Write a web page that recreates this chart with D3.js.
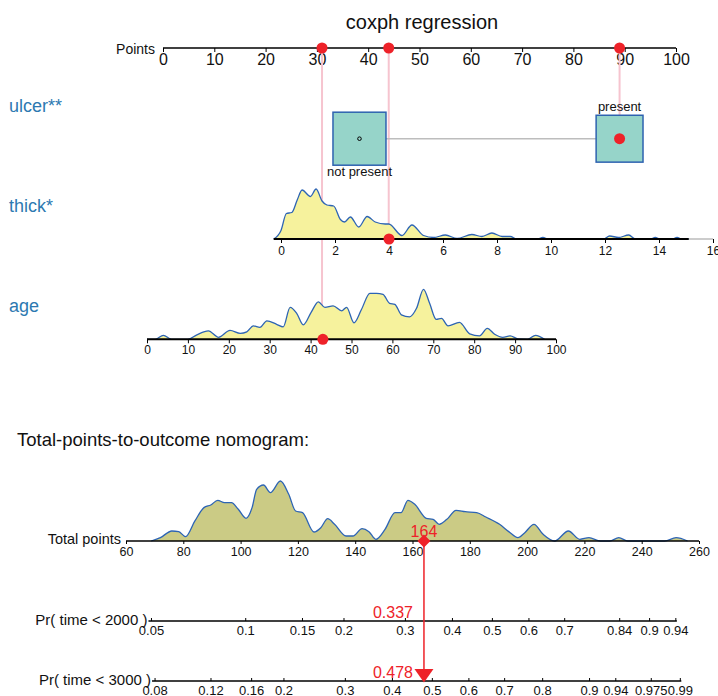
<!DOCTYPE html>
<html>
<head>
<meta charset="utf-8">
<script src="https://cdn.jsdelivr.net/npm/d3@7/dist/d3.min.js"></script>
<style>
    body { margin: 0; background: #fff; }
    svg { font-family: Arial, "Liberation Sans", sans-serif; }
</style>
</head>
<body>
<svg id="chart" width="718" height="696"></svg>
<script>
// tick labels
var pointsTicks = [0, 10, 20, 30, 40, 50, 60, 70, 80, 90, 100];
var thickTicks = [0, 2, 4, 6, 8, 10, 12, 14, 16];
var ageTicks = [0, 10, 20, 30, 40, 50, 60, 70, 80, 90, 100];
var totalTicks = [60, 80, 100, 120, 140, 160, 180, 200, 220, 240, 260];
var pr2000Ticks = [0.05, 0.1, 0.15, 0.2, 0.3, 0.4, 0.5, 0.6, 0.7, 0.84, 0.9, 0.94];
var pr3000Ticks = [0.08, 0.12, 0.16, 0.2, 0.3, 0.4, 0.5, 0.6, 0.7, 0.8, 0.9, 0.94, 0.975, 0.99];

// ulcer (categorical)
var ulcerLevels = ['not present', 'present'];
var ulcerCounts = [115, 90];
var ulcerPoints = [38.3, 89];

// densities [value, relative density]
var thickDensity = [[-0.27, 0], [0, 0.17], [0.2, 0.51], [0.4, 0.53], [0.6, 0.78], [0.78, 0.98], [1.09, 0.85],
    [1.3, 1.0], [1.52, 0.76], [1.7, 0.68], [1.95, 0.66], [2.2, 0.39], [2.35, 0.34], [2.57, 0.44], [2.88, 0.24],
    [3.19, 0.45], [3.49, 0.34], [3.86, 0.3], [3.99, 0.3], [4.48, 0.07], [4.85, 0.28], [5.28, 0.07], [5.65, 0.03],
    [6.09, 0.08], [6.52, 0.01], [7.07, 0.09], [7.44, 0.05], [7.81, 0.12], [8.19, 0.05], [8.49, 0.05], [8.74, 0],
    [9.48, 0], [9.7, 0.03], [9.9, 0], [11.95, 0], [12.17, 0.06], [12.5, 0.03], [12.88, 0.08], [13.12, 0],
    [13.68, 0], [13.86, 0.03], [14.05, 0], [14.48, 0], [14.67, 0.03], [14.85, 0], [15.1, 0]];
var ageDensity = [[0, 0], [2, 0], [4, 0.08], [6, 0], [10, 0], [12.2, 0.09], [15, 0.17], [17.5, 0.04], [20.3, 0.18],
    [22.8, 0.12], [24.4, 0.15], [26, 0.27], [27.6, 0.24], [29.3, 0.37], [31.7, 0.3], [33.3, 0.25], [35, 0.64],
    [36.6, 0.52], [38.2, 0.29], [40.2, 0.55], [41.9, 0.75], [43.5, 0.64], [45.5, 0.67], [47.6, 0.57], [48.8, 0.64],
    [50.6, 0.33], [52.4, 0.59], [54.5, 0.92], [56.1, 0.92], [57.7, 0.9], [59.3, 0.72], [60.6, 0.7], [62.2, 0.49],
    [64.2, 0.45], [65.9, 0.62], [67.6, 1.0], [69.1, 0.72], [70.7, 0.4], [72, 0.42], [73.6, 0.27], [76.4, 0.34],
    [78.9, 0.11], [81.3, 0.07], [83.2, 0.22], [85, 0.1], [87, 0.04], [88.8, 0.07], [90.7, 0.01], [93, 0],
    [95, 0.08], [97.2, 0]];
var totalDensity = [[68.8, 0], [72, 0.056], [76, 0.167], [78.4, 0.156], [80.8, 0.072], [84, 0.33], [87.2, 0.556],
    [89.6, 0.6], [92, 0.678], [94.4, 0.639], [96.8, 0.639], [99.2, 0.528], [101.9, 0.378], [104, 0.556],
    [105.6, 0.861], [108, 0.933], [110.4, 0.806], [113.9, 1.0], [116.8, 0.778], [119.2, 0.5], [121.6, 0.472],
    [125.6, 0.15], [128, 0.222], [130.4, 0.372], [132.8, 0.278], [136.8, 0.083], [139.2, 0.083], [142.4, 0.206],
    [144.8, 0.156], [147.2, 0.028], [150.4, 0.194], [153.9, 0.472], [156, 0.472], [158.4, 0.678], [160.8, 0.611],
    [164.8, 0.378], [167.2, 0.361], [169.3, 0.278], [172, 0.361], [175.2, 0.511], [178.4, 0.489], [182.4, 0.472],
    [185.6, 0.4], [190.4, 0.278], [193.6, 0.156], [196.8, 0.056], [199.2, 0.139], [202.4, 0.278], [205.6, 0.111],
    [209.6, 0], [214.4, 0.167], [218.4, 0.028], [221.6, 0.056], [225.6, 0], [228.8, 0], [232, 0.056], [235.2, 0],
    [248, 0], [252, 0.056], [256, 0]];

// observation
var obsUlcer = 'present';
var obsThick = 4;
var obsAge = 43;
var obsPoints = [89, 44, 31]; // ulcer, thick, age
var obsTotal = 164;
var obsRisk = [0.337, 0.478];
var lpPerPoint = 0.02188;

var RED = '#ee2229', PINK = '#f6c4cf', BLUE = '#2d64b4', LABEL = '#2d79b1';

var svg = d3.select('#chart');

function styleAxis(g, size) {
    g.select('.domain').remove();
    g.selectAll('text').attr('font-size', size).attr('fill', '#111');
    g.selectAll('.tick line').attr('stroke', '#000');
}

// title
svg.append('text').attr('x', 422).attr('y', 29).attr('text-anchor', 'middle')
    .attr('font-size', 20).attr('fill', '#111').text('coxph regression');

// points axis
var pointsY = 48;
var pointsScale = d3.scaleLinear().domain([0, 100]).range([163, 676]);
svg.append('line').attr('x1', 163).attr('x2', 676).attr('y1', pointsY).attr('y2', pointsY)
    .attr('stroke', '#000').attr('stroke-width', 1.5);
svg.append('g').attr('transform', 'translate(0,' + pointsY + ')')
    .call(d3.axisBottom(pointsScale).tickValues(pointsTicks).tickSize(4).tickPadding(2))
    .call(styleAxis, 16);
svg.append('text').attr('x', 155).attr('y', 54).attr('text-anchor', 'end')
    .attr('font-size', 14).attr('fill', '#111').text('Points');

// variable labels
[['ulcer**', 112], ['thick*', 212], ['age', 312]].forEach(function(l) {
    svg.append('text').attr('x', 9).attr('y', l[1]).attr('font-size', 18).attr('fill', LABEL).text(l[0]);
});

// pink guide lines (drawn first so marks sit on top)
var ulcerY = 138.7, thickY = 239, ageY = 339.3;
var guideTargets = [ulcerY, thickY, ageY];
svg.selectAll('.guide').data(obsPoints).enter().append('line')
    .attr('class', 'guide')
    .attr('x1', function(d) { return pointsScale(d); })
    .attr('x2', function(d) { return pointsScale(d); })
    .attr('y1', pointsY)
    .attr('y2', function(d, i) { return guideTargets[i]; })
    .attr('stroke', PINK).attr('stroke-width', 2);

// ulcer boxes
var boxSize = d3.scaleSqrt().domain([0, 115]).range([0, 53]);
var ux = ulcerPoints.map(function(p) { return pointsScale(p); });
svg.append('line').attr('x1', ux[0] + boxSize(ulcerCounts[0]) / 2).attr('x2', ux[1] - boxSize(ulcerCounts[1]) / 2)
    .attr('y1', ulcerY).attr('y2', ulcerY).attr('stroke', '#bdbdbd').attr('stroke-width', 1.5);
svg.selectAll('.ubox').data(ulcerLevels).enter().append('rect')
    .attr('class', 'ubox')
    .attr('x', function(d, i) { return ux[i] - boxSize(ulcerCounts[i]) / 2; })
    .attr('y', function(d, i) { return ulcerY - boxSize(ulcerCounts[i]) / 2; })
    .attr('width', function(d, i) { return boxSize(ulcerCounts[i]); })
    .attr('height', function(d, i) { return boxSize(ulcerCounts[i]); })
    .attr('fill', '#96d4c9').attr('stroke', '#2e62b0').attr('stroke-width', 1.5);
svg.selectAll('.ulab').data(ulcerLevels).enter().append('text')
    .attr('class', 'ulab')
    .attr('x', function(d, i) { return ux[i]; })
    .attr('y', function(d, i) {
        var h = boxSize(ulcerCounts[i]) / 2;
        return i === 0 ? ulcerY + h + 11 : ulcerY - h - 4.6;
    })
    .attr('text-anchor', 'middle').attr('font-size', 13).attr('fill', '#111')
    .text(function(d) { return d; });
svg.append('circle').attr('cx', ux[0]).attr('cy', ulcerY).attr('r', 1.8)
    .attr('fill', 'none').attr('stroke', '#000').attr('stroke-width', 1);

// density row helper
function densityRow(data, scale, baseY, height, fill) {
    var y = d3.scaleLinear().domain([0, 1]).range([baseY, baseY - height]);
    var area = d3.area().curve(d3.curveMonotoneX)
        .x(function(d) { return scale(d[0]); }).y0(baseY).y1(function(d) { return y(d[1]); });
    var line = d3.line().curve(d3.curveMonotoneX)
        .x(function(d) { return scale(d[0]); }).y(function(d) { return y(d[1]); });
    svg.append('path').datum(data).attr('d', area).attr('fill', fill);
    svg.append('path').datum(data).attr('d', line).attr('fill', 'none')
        .attr('stroke', BLUE).attr('stroke-width', 1.3);
}

// thick
var thickScale = d3.scaleLinear().domain([0, 16]).range([281, 713]);
densityRow(thickDensity, thickScale, thickY, 50, '#f6f29d');
svg.append('line').attr('x1', thickScale(-0.27)).attr('x2', thickScale(16)).attr('y1', thickY).attr('y2', thickY)
    .attr('stroke', '#999').attr('stroke-width', 1);
svg.append('line').attr('x1', thickScale(-0.27)).attr('x2', thickScale(15.1)).attr('y1', thickY).attr('y2', thickY)
    .attr('stroke', '#000').attr('stroke-width', 2);
svg.append('g').attr('transform', 'translate(0,' + thickY + ')')
    .call(d3.axisBottom(thickScale).tickValues(thickTicks).tickSize(4).tickPadding(3.5))
    .call(styleAxis, 12);

// age
var ageScale = d3.scaleLinear().domain([0, 100]).range([147, 556]);
densityRow(ageDensity, ageScale, ageY, 50, '#f6f29d');
svg.append('line').attr('x1', ageScale(0)).attr('x2', ageScale(100)).attr('y1', ageY).attr('y2', ageY)
    .attr('stroke', '#000').attr('stroke-width', 2);
svg.append('g').attr('transform', 'translate(0,' + ageY + ')')
    .call(d3.axisBottom(ageScale).tickValues(ageTicks).tickSize(4).tickPadding(2))
    .call(styleAxis, 12);

// red observation dots
var dots = obsPoints.map(function(p) { return [pointsScale(p), pointsY]; });
dots.push([pointsScale(ulcerPoints[ulcerLevels.indexOf(obsUlcer)]), ulcerY]);
dots.push([thickScale(obsThick), thickY]);
dots.push([ageScale(obsAge), ageY]);
svg.selectAll('.obs').data(dots).enter().append('circle')
    .attr('class', 'obs')
    .attr('cx', function(d) { return d[0]; }).attr('cy', function(d) { return d[1]; })
    .attr('r', 5.5).attr('fill', RED);

// total points section
svg.append('text').attr('x', 17).attr('y', 446).attr('font-size', 18.5).attr('fill', '#111')
    .text('Total-points-to-outcome nomogram:');

var totalY = 541;
var totalScale = d3.scaleLinear().domain([60, 260]).range([126, 699]);
densityRow(totalDensity, totalScale, totalY, 60, '#cbcb85');
svg.append('line').attr('x1', totalScale(60)).attr('x2', totalScale(260)).attr('y1', totalY).attr('y2', totalY)
    .attr('stroke', '#000').attr('stroke-width', 1.5);
svg.append('g').attr('transform', 'translate(0,' + totalY + ')')
    .call(d3.axisBottom(totalScale).tickValues(totalTicks).tickSize(3).tickPadding(3))
    .call(styleAxis, 12.5);
svg.append('text').attr('x', 121).attr('y', 544).attr('text-anchor', 'end')
    .attr('font-size', 14.5).attr('fill', '#111').text('Total points');

// risk axes: cloglog(p) is linear in total points
function cll(p) { return Math.log(-Math.log(1 - p)); }
var riskRows = [
    { label: 'Pr( time < 2000 )', ticks: pr2000Ticks, risk: obsRisk[0], y: 621 },
    { label: 'Pr( time < 3000 )', ticks: pr3000Ticks, risk: obsRisk[1], y: 681 }
];
var obsX = totalScale(obsTotal);

riskRows.forEach(function(r) {
    var offset = cll(r.risk) - lpPerPoint * obsTotal;
    var xs = d3.scaleLinear()
        .domain([offset + lpPerPoint * 60, offset + lpPerPoint * 260])
        .range(totalScale.range());
    var x = function(p) { return xs(cll(p)); };
    var g = svg.append('g');
    g.append('line').attr('x1', x(r.ticks[0]) - 3).attr('x2', x(r.ticks[r.ticks.length - 1]) + 1)
        .attr('y1', r.y).attr('y2', r.y).attr('stroke', '#000').attr('stroke-width', 1.3);
    g.selectAll('.rt').data(r.ticks).enter().append('line')
        .attr('x1', x).attr('x2', x).attr('y1', r.y).attr('y2', r.y - 3)
        .attr('stroke', '#000');
    g.selectAll('.rl').data(r.ticks).enter().append('text')
        .attr('x', x).attr('y', r.y + 13.5).attr('text-anchor', 'middle')
        .attr('font-size', 13).attr('fill', '#111')
        .text(function(d) { return String(d); });
    g.append('text').attr('x', x(r.ticks[0]) - 4).attr('y', r.y + 4).attr('text-anchor', 'end')
        .attr('font-size', 15).attr('fill', '#111').text(r.label);
    g.append('text').attr('x', obsX - 11).attr('y', r.y - 3).attr('text-anchor', 'end')
        .attr('font-size', 16).attr('fill', RED).text(d3.format('.3f')(r.risk));
});

// red drop line, diamond and arrow
var lastY = riskRows[riskRows.length - 1].y;
svg.append('line').attr('x1', obsX).attr('x2', obsX).attr('y1', totalY).attr('y2', lastY - 12)
    .attr('stroke', RED).attr('stroke-width', 1.5);
svg.append('path')
    .attr('d', 'M' + obsX + ',' + (totalY - 6.5) + 'l6.5,6.5l-6.5,6.5l-6.5,-6.5z')
    .attr('fill', RED);
svg.append('path')
    .attr('d', 'M' + (obsX - 9.5) + ',' + (lastY - 12) + 'h19l-9.5,13.5z')
    .attr('fill', RED);
svg.append('text').attr('x', obsX).attr('y', totalY - 4).attr('text-anchor', 'middle')
    .attr('font-size', 16).attr('fill', RED).text(obsTotal);
</script>
</body>
</html>
